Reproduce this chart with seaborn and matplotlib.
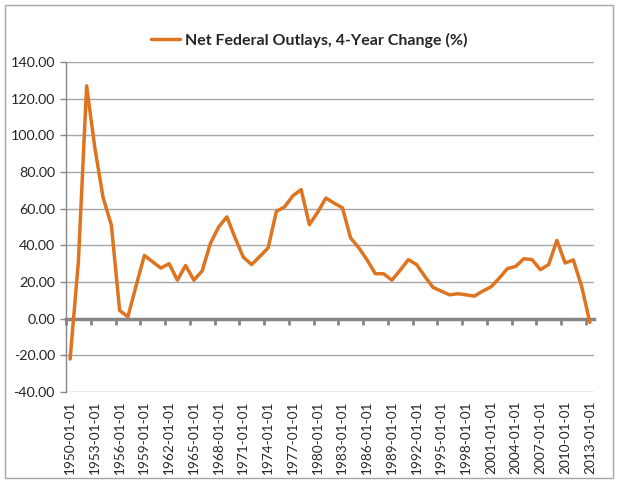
import matplotlib
matplotlib.use("Agg")
import matplotlib.pyplot as plt
import seaborn as sns
import pandas as pd
from matplotlib.patches import Rectangle

# valores (variação de 4 anos, %)
anos = list(range(1950, 2014))
variacao = [
    -22.0, 31.0, 127.0, 93.0, 66.0, 51.0, 4.5, 1.0, 18.0, 34.5,
    31.0, 27.6, 30.0, 21.0, 29.0, 21.0, 26.0, 41.0, 50.0, 55.5,
    44.0, 33.5, 29.5, 34.0, 38.6, 58.5, 61.0, 67.0, 70.4, 51.3,
    58.0, 65.8, 63.0, 60.5, 44.0, 38.6, 32.0, 24.5, 24.5, 21.0,
    26.4, 32.2, 29.5, 23.0, 17.0, 15.0, 13.0, 13.6, 13.0, 12.3,
    15.0, 17.3, 22.0, 27.3, 28.5, 32.7, 32.2, 26.7, 29.5, 42.7,
    30.4, 32.0, 17.6, -2.0,
]
rotulos_x = [f"{a}-01-01" for a in anos]
ticks_y = [-40, -20, 0, 20, 40, 60, 80, 100, 120, 140]
serie = "Net Federal Outlays, 4-Year Change (%)"

df = pd.DataFrame({"pos": range(len(anos)), "valor": variacao})

sns.set_style("white")
plt.rcParams["font.family"] = ["Lato", "DejaVu Sans"]

fig = plt.figure(figsize=(6.19, 4.83), dpi=100)
ax = fig.add_axes([66 / 619, 1 - 392 / 483, (594 - 66) / 619, (392 - 62) / 483])

cor = "#de7420"
sns.lineplot(data=df, x="pos", y="valor", ax=ax, color=cor, linewidth=2.5,
             label=serie, zorder=4)

ax.set_xlim(-0.5, len(anos) - 0.5)
ax.set_ylim(-40, 140)
ax.set_yticks(ticks_y)
ax.set_yticklabels([f"{v:.2f}" for v in ticks_y], fontsize=10.3)
ax.yaxis.grid(True, color="#a6a6a6", linewidth=1)
ax.set_axisbelow(True)
ax.set_xlabel("")
ax.set_ylabel("")

for lado in ["top", "right"]:
    ax.spines[lado].set_visible(False)
ax.spines["left"].set_color("#868686")
ax.spines["left"].set_linewidth(1)
ax.tick_params(axis="y", left=True, length=4, width=1, color="#868686", pad=4)

# eixo horizontal cruzando em zero, com marcas entre categorias
ax.spines["bottom"].set_position(("data", 0))
ax.spines["bottom"].set_color("#868686")
ax.spines["bottom"].set_linewidth(2.5)
ax.spines["bottom"].set_zorder(3)
ax.set_xticks([p - 0.5 for p in range(0, len(anos), 3)])
ax.set_xticklabels([])
ax.tick_params(axis="x", bottom=True, length=4, width=2, color="#868686")

# rótulos na parte de baixo da área do gráfico
sec = ax.secondary_xaxis(0.0)
sec.set_xticks(list(range(0, len(anos), 3)))
sec.set_xticklabels(rotulos_x[::3], rotation=90, fontsize=9.8)
sec.tick_params(length=0, pad=6)
sec.spines["bottom"].set_visible(False)

ax.legend(loc="center", bbox_to_anchor=(0.5, 1 - 40 / 483), bbox_transform=fig.transFigure,
          frameon=False, handlelength=1.8, handletextpad=0.3,
          prop={"weight": "bold", "size": 11.5, "family": ["Lato", "DejaVu Sans"]})

fig.patches.append(Rectangle((5 / 619, 5 / 483), 608 / 619, 473 / 483,
                             transform=fig.transFigure, fill=False,
                             edgecolor="#a6a6a6", linewidth=1))

plt.savefig("out.png", dpi=100)
plt.close()
